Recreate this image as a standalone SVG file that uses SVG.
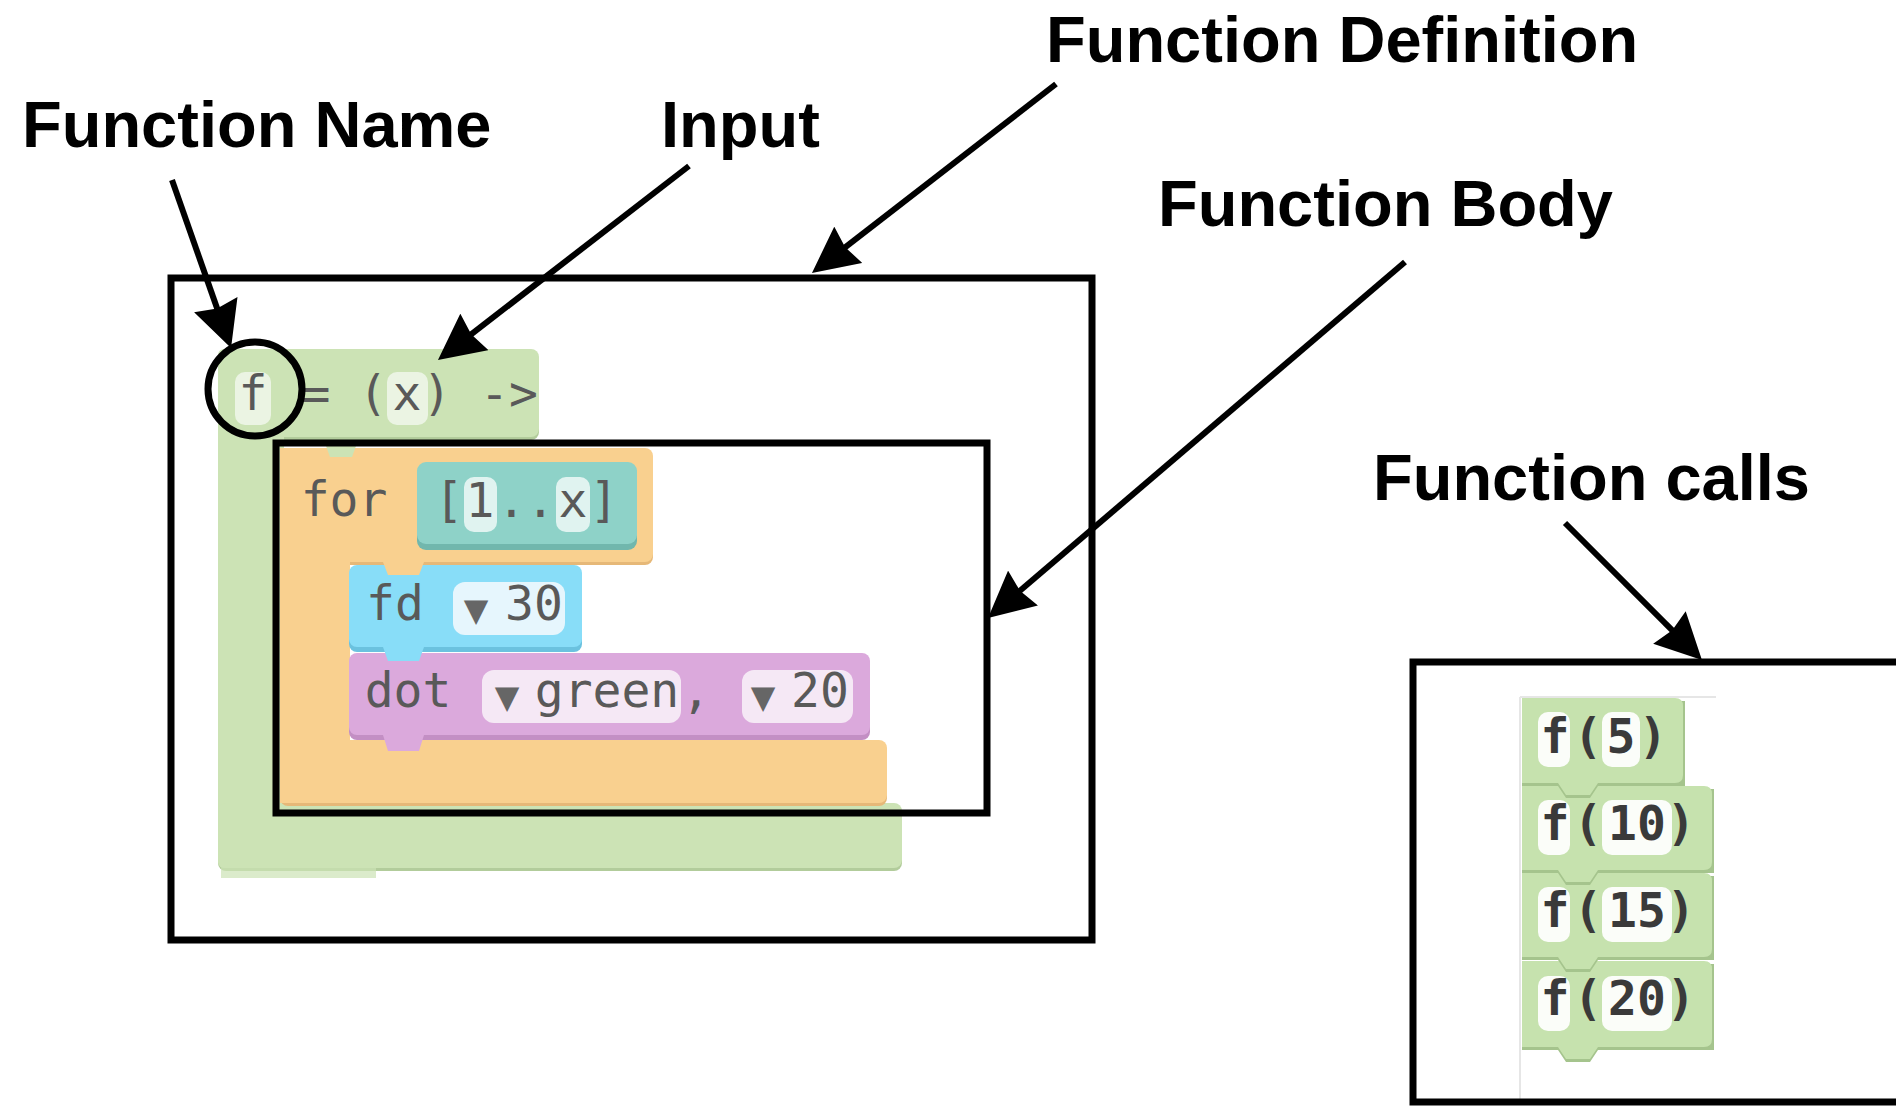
<svg xmlns="http://www.w3.org/2000/svg" width="1896" height="1107" viewBox="0 0 1896 1107">
<style>
.lbl{font-family:"Liberation Sans",Arial,sans-serif;font-weight:bold;font-size:65px;fill:#000}
.code{font-family:"DejaVu Sans Mono",monospace;font-size:48px;fill:#595959;text-anchor:middle}
.tri{font-family:"DejaVu Sans",sans-serif;font-size:32px;fill:#666;text-anchor:middle}
.call{font-family:"DejaVu Sans Mono",monospace;font-size:48px;font-weight:bold;fill:#3a3a3a;text-anchor:middle}
.frame{fill:none;stroke:#000;stroke-width:7}
.arrow{fill:none;stroke:#000;stroke-width:6;marker-end:url(#ah)}
.g{fill:#cce3b5}.gd{fill:#b2cc9b}
.o{fill:#f9d08f}.od{fill:#e6b878}
.t{fill:#8ed2c8}.td{fill:#71b7ad}
.b{fill:#88ddf8}.bd{fill:#6bc2df}
.p{fill:#dba9dc}.pd{fill:#c38fc4}
.cg{fill:#c6e2ae}.cgd{fill:#a5c48d}
.fg{fill:#ebf4e3}.ft{fill:#e0f3f0}.fb{fill:#e6f6fd}.fp{fill:#f5e8f5}.fw{fill:#fbfdf9}
</style>
<defs>
<marker id="ah" markerUnits="userSpaceOnUse" viewBox="0 0 46 46" refX="38" refY="23" markerWidth="46" markerHeight="46" orient="auto">
<path d="M0,0 L46,23 L0,46 L4,23 Z" fill="#000"/>
</marker>
</defs>
<rect width="1896" height="1107" fill="#fff"/>

<g id="function-definition-blocks">
  <g id="define-block">
    <rect class="gd" x="218" y="352" width="321" height="88" rx="8"/>
    <rect class="gd" x="218" y="806" width="684" height="65" rx="8"/>
    <rect class="g" x="218" y="349" width="321" height="88" rx="8"/>
    <rect class="g" x="218" y="349" width="66" height="519" rx="6"/>
    <rect class="g" x="218" y="803" width="684" height="65" rx="8"/>
    <rect class="g" x="221" y="866" width="155" height="12" opacity="0.7"/>
    <rect class="fg" x="235" y="372" width="36" height="53" rx="10"/>
    <rect class="fg" x="387" y="372" width="41" height="53" rx="10"/>
    <text class="code" x="253" y="410">f</text>
    <text class="code" x="316" y="410">=</text>
    <text class="code" x="373" y="410">(</text>
    <text class="code" x="407" y="410">x</text>
    <text class="code" x="437" y="410">)</text>
    <text class="code" x="509" y="410">-&gt;</text>
  </g>
  <g id="for-block">
    <rect class="od" x="280" y="451" width="373" height="114" rx="8"/>
    <rect class="od" x="280" y="743" width="607" height="63" rx="8"/>
    <rect class="o" x="280" y="448" width="373" height="114" rx="8"/>
    <rect class="o" x="280" y="448" width="70" height="355"/>
    <rect class="o" x="280" y="740" width="607" height="63" rx="8"/>
    <path class="g" d="M326,446 H356 L352,457 H330 Z"/>
    <text class="code" x="344" y="516">for</text>
  </g>
  <g id="range-block">
    <rect class="td" x="417" y="465" width="220" height="85" rx="9"/>
    <rect class="t" x="417" y="462" width="220" height="82" rx="9"/>
    <rect class="ft" x="464" y="477" width="33" height="55" rx="10"/>
    <rect class="ft" x="556" y="477" width="34" height="55" rx="10"/>
    <text class="code" x="449" y="517">[</text>
    <text class="code" x="480" y="517">1</text>
    <text class="code" x="526" y="517">..</text>
    <text class="code" x="573" y="517">x</text>
    <text class="code" x="604" y="517">]</text>
  </g>
  <g id="fd-block">
    <rect class="bd" x="349" y="568" width="233" height="84" rx="8"/>
    <rect class="b" x="349" y="565" width="233" height="82" rx="8"/>
    <path class="o" d="M383,562 H424 L419,575 H388 Z"/>
    <rect class="fb" x="453" y="582" width="112" height="53" rx="12"/>
    <text class="code" x="395" y="620">fd</text>
    <text class="tri" x="476" y="621">▼</text>
    <text class="code" x="534" y="620">30</text>
  </g>
  <g id="dot-block">
    <rect class="pd" x="349" y="656" width="521" height="84" rx="8"/>
    <rect class="p" x="349" y="653" width="521" height="82" rx="8"/>
    <path class="b" d="M383,647 H424 L419,661 H388 Z"/>
    <path class="p" d="M383,735 H424 L419,751 H388 Z"/>
    <rect class="fp" x="482" y="670" width="199" height="53" rx="12"/>
    <rect class="fp" x="742" y="670" width="111" height="53" rx="12"/>
    <text class="code" x="408" y="707">dot</text>
    <text class="tri" x="507" y="708">▼</text>
    <text class="code" x="607" y="707">green</text>
    <text class="code" x="696" y="707">,</text>
    <text class="tri" x="763" y="708">▼</text>
    <text class="code" x="820" y="707">20</text>
  </g>
</g>

<g id="function-calls-blocks">
  <line x1="1520" y1="697" x2="1520" y2="1102" stroke="#e6e6e6" stroke-width="2"/>
  <line x1="1520" y1="697" x2="1716" y2="697" stroke="#e6e6e6" stroke-width="2"/>
  <g id="call-20">
    <path class="cgd" d="M1522,964 H1714 V1050 H1598 L1590,1062 H1566 L1558,1050 H1522 Z"/>
    <path class="cg" d="M1522,961 H1704 Q1712,961 1712,969 V1039 Q1712,1047 1704,1047 H1598 L1590,1059 H1566 L1558,1047 H1522 Z"/>
    <rect class="fw" x="1538" y="976" width="32" height="55" rx="10"/>
    <rect class="fw" x="1602" y="976" width="70" height="55" rx="10"/>
    <text class="call" x="1555" y="1015">f</text>
    <text class="call" x="1588" y="1015">(</text>
    <text class="call" x="1637" y="1015">20</text>
    <text class="call" x="1681" y="1015">)</text>
  </g>
  <g id="call-15">
    <path class="cgd" d="M1522,876 H1714 V960 H1598 L1590,972 H1566 L1558,960 H1522 Z"/>
    <path class="cg" d="M1522,873 H1704 Q1712,873 1712,881 V949 Q1712,957 1704,957 H1598 L1590,969 H1566 L1558,957 H1522 Z"/>
    <rect class="fw" x="1538" y="887" width="32" height="55" rx="10"/>
    <rect class="fw" x="1602" y="887" width="70" height="55" rx="10"/>
    <text class="call" x="1555" y="927">f</text>
    <text class="call" x="1588" y="927">(</text>
    <text class="call" x="1637" y="927">15</text>
    <text class="call" x="1681" y="927">)</text>
  </g>
  <g id="call-10">
    <path class="cgd" d="M1522,789 H1714 V873 H1598 L1590,885 H1566 L1558,873 H1522 Z"/>
    <path class="cg" d="M1522,786 H1704 Q1712,786 1712,794 V862 Q1712,870 1704,870 H1598 L1590,882 H1566 L1558,870 H1522 Z"/>
    <rect class="fw" x="1538" y="800" width="32" height="55" rx="10"/>
    <rect class="fw" x="1602" y="800" width="70" height="55" rx="10"/>
    <text class="call" x="1555" y="840">f</text>
    <text class="call" x="1588" y="840">(</text>
    <text class="call" x="1637" y="840">10</text>
    <text class="call" x="1681" y="840">)</text>
  </g>
  <g id="call-5">
    <path class="cgd" d="M1522,701 H1685 V786 H1598 L1590,798 H1566 L1558,786 H1522 Z"/>
    <path class="cg" d="M1522,698 H1675 Q1683,698 1683,706 V775 Q1683,783 1675,783 H1598 L1590,795 H1566 L1558,783 H1522 Z"/>
    <rect class="fw" x="1538" y="712" width="32" height="55" rx="10"/>
    <rect class="fw" x="1602" y="712" width="38" height="55" rx="10"/>
    <text class="call" x="1555" y="753">f</text>
    <text class="call" x="1588" y="753">(</text>
    <text class="call" x="1621" y="753">5</text>
    <text class="call" x="1653" y="753">)</text>
  </g>
</g>

<g id="frames">
  <rect id="function-definition-box" class="frame" x="171" y="278" width="921" height="662"/>
  <rect id="function-body-box" class="frame" x="276" y="443" width="711" height="370"/>
  <path id="function-calls-box" class="frame" d="M1910,662 H1413 V1102 H1910"/>
  <circle id="function-name-circle" cx="255" cy="389" r="47" fill="none" stroke="#000" stroke-width="7"/>
</g>

<g id="connectors">
  <line class="arrow" x1="172" y1="180" x2="228.4" y2="340.5"/>
  <line class="arrow" x1="689" y1="166" x2="444.3" y2="355.1"/>
  <line class="arrow" x1="1056" y1="84" x2="818.3" y2="268.1"/>
  <line class="arrow" x1="1405" y1="262" x2="994.1" y2="612.8"/>
  <line class="arrow" x1="1565" y1="523" x2="1696.3" y2="654.3"/>
</g>

<g id="labels">
  <text class="lbl" x="22" y="147">Function Name</text>
  <text class="lbl" x="661" y="147">Input</text>
  <text class="lbl" x="1046" y="62">Function Definition</text>
  <text class="lbl" x="1158" y="226">Function Body</text>
  <text class="lbl" x="1373" y="500">Function calls</text>
</g>
</svg>
